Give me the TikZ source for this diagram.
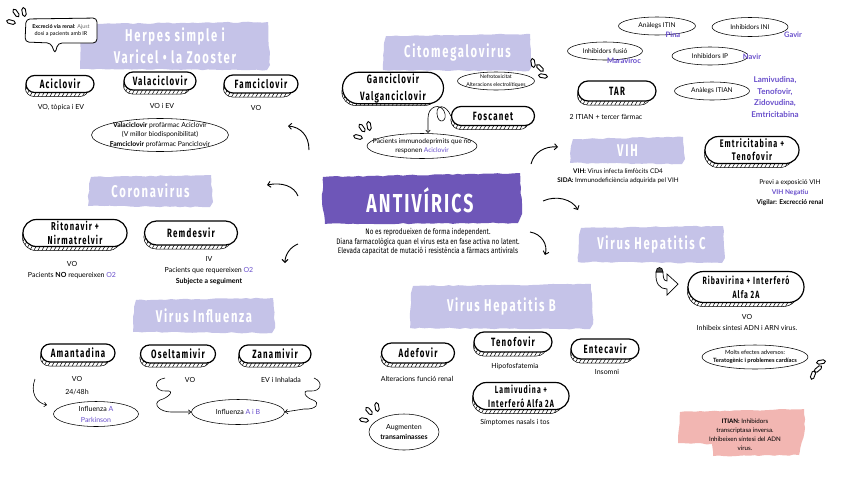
\documentclass[tikz,border=0pt]{standalone}
\usepackage{fontspec}
\setmainfont{Lato}
\newfontfamily\headfont[FakeStretch=0.66,LetterSpace=10]{Fira Sans}
\newfontfamily\condfont[FakeStretch=0.8]{Fira Sans}
\newfontfamily\titlefont[FakeStretch=0.68,LetterSpace=8]{Fira Sans}
\usetikzlibrary{shapes.geometric,shapes.misc,patterns.meta,arrows.meta,decorations.pathmorphing}
\definecolor{lav}{HTML}{C5C3E8}
\definecolor{deep}{HTML}{6E56B8}
\definecolor{vio}{HTML}{6A50CC}
\definecolor{pinkbg}{HTML}{F2B6B2}
\tikzset{
  band/.style={fill=lav, decorate, decoration={random steps, segment length=5pt, amplitude=0.6pt}},
  headtxt/.style={text=white, font=\headfont\bfseries\fontsize{17}{22}\selectfont, align=center, inner sep=0pt},
  coinfront/.style={rounded rectangle, draw, line width=1.2pt, fill=white, inner sep=1pt, align=center, font=\headfont\bfseries\fontsize{12}{14}\selectfont},
  coinback/.style={rounded rectangle, draw, line width=0.5pt, pattern={Lines[angle=60,distance=3.5pt,line width=0.5pt]}},
  ell/.style={ellipse, draw, line width=0.55pt, inner sep=0pt},
  txt/.style={inner sep=0pt, align=center, font=\fontsize{7}{10}\selectfont},
  ltxt/.style={inner sep=0pt, align=center, font=\fontsize{6.6}{9}\selectfont},
  vtxt/.style={inner sep=0pt, align=center, text=vio, font=\bfseries\fontsize{7.5}{9}\selectfont},
  arr/.style={line width=0.9pt, -{Straight Barb[length=3pt,width=6pt]}},
  thinarr/.style={line width=0.6pt, -{Straight Barb[length=2.5pt,width=4.5pt]}},
  spark/.style={rounded rectangle, draw, line width=0.9pt, minimum width=9pt, minimum height=3.6pt, inner sep=0pt},
}
% coin node: [extra] name x y w h text
\newcommand\coin[7][]{%
  \node[coinback, minimum width=#5pt, minimum height=#6pt] (#2b) at (#3-3,#4+4) {};
  \node[coinfront, minimum width=#5pt, minimum height=#6pt, #1] (#2) at (#3,#4) {#7};}
% ellipse with text: [font] name x y w h text
\newcommand\ellnode[7][]{%
  \node[ell, minimum width=#5pt, minimum height=#6pt] (#2) at (#3,#4) {};
  \node[ltxt, #1] (#2t) at (#3,#4) {#7};}
% band: [fill] name x1 y1 x2 y2 text
\newcommand\band[7][lav]{%
  \fill[band, fill=#1] (#3+3,#4+2) -- (#5-2,#4) -- (#5,#6-5) -- (#5-3,#6) -- (#3,#6-1) -- (#3+1,#4+9) -- cycle;
  \node[headtxt] (#2) at ({(#3+#5)/2},{(#4+#6)/2}) {#7};}
\begin{document}
\begin{tikzpicture}[x=1pt,y=-1pt]
\useasboundingbox (0,0) rectangle (848,477);
\fill[white] (0,0) rectangle (848,477);

% ---------------- central title
\fill[deep, decorate, decoration={random steps, segment length=5pt, amplitude=0.6pt}]
  (323,177) -- (520,173) -- (522,214) -- (518,223) -- (325,224) -- (322,200) -- cycle;
\node[inner sep=0pt, text=white, font=\titlefont\bfseries\fontsize{26}{28}\selectfont] (title) at (420,200) {ANTIVÍRICS};
\node[txt, font=\condfont\fontsize{8}{9.3}\selectfont] (sub) at (428,242)
  {No es reprodueixen de forma independent.\\Diana farmacològica quan el virus esta en fase activa no latent.\\Elevada capacitat de mutació i resistència a fàrmacs antivirals};

% ---------------- Herpes
\band{herp}{80}{22}{270}{70}{Herpes simple i\\Varicel • la Zooster}
\draw[line width=0.8pt, rounded corners=4pt, fill=white] (26,19) -- (97,18) -- (97,43) -- (58,43) -- (55,54) -- (51,43) -- (25,42) -- cycle;
\node[inner sep=0pt, align=center, font=\fontsize{5.4}{7}\selectfont] (bubble) at (61,30) {\textbf{Excreció via renal}: \textcolor{black!60}{Ajust}\\dosi a pacients amb IR};
\node[spark, rotate=-15] (sp1a) at (11,22) {};
\node[spark, rotate=-55] (sp1b) at (16,13) {};
\node[spark, rotate=-80] (sp1c) at (24,12) {};
\coin{acic}{60}{84}{70}{17}{Aciclovir}
\coin{vala}{160}{81}{74}{18}{Valaciclovir}
\coin{famc}{261}{84}{76}{18}{Famciclovir}
\node[txt] (acicl) at (61,108) {VO, tòpica i EV};
\node[txt] (valal) at (162,106) {VO i EV};
\node[txt] (famcl) at (256,108) {VO};
\ellnode[font=\fontsize{6.8}{9.5}\selectfont]{prof}{160}{135}{137}{33}{\textbf{Valaciclovir} profàrmac Aciclovir\\(V millor biodisponibilitat)\\\textbf{Famciclovir} profàrmac Panciclovir}

% ---------------- Citomegalovirus
\band{cmv}{383}{34}{532}{71}{Citomegalovirus}
\coin[font=\headfont\bfseries\fontsize{12}{17}\selectfont]{ganc}{393}{88}{103}{27}{Ganciclovir\\Valganciclovir}
\coin{fosc}{493}{116}{85}{19}{Foscanet}
\ellnode[font=\fontsize{5.2}{8}\selectfont]{nefro}{496}{81}{77}{18}{Nefrotoxicitat\\Alteracions electrolítiques}
\ellnode[font=\fontsize{6.6}{9}\selectfont]{pac}{422}{146}{110}{25}{Pacients immunodeprimits que no\\responen \textcolor{vio}{Aciclovir}}
\node[spark, rotate=100] (sp2a) at (533,63) {};
\node[spark, rotate=135] (sp2b) at (540,68) {};
\node[spark, rotate=170] (sp2c) at (543,76) {};
\node[spark, rotate=-15] (sp3a) at (358,137) {};
\node[spark, rotate=-55] (sp3b) at (362,128) {};
\node[spark, rotate=-80] (sp3c) at (369,126) {};
\coordinate (pactop) at (428,133);
\draw[thinarr] (fosc.west) .. controls (446,104) and (436,104) .. (437,114) .. controls (438,126) and (449,121) .. (444,111) .. controls (440,103) and (428,106) .. (428,118) -- (pactop);

% ---------------- VIH / TAR
\band{vih}{570}{137}{685}{164}{VIH}
\node[inner sep=0pt, align=center, font=\fontsize{6.4}{9}\selectfont] (vihl) at (618,176) {\textbf{VIH:} Virus infecta limfòcits CD4\\\textbf{SIDA:} Immunodeficiència adquirida pel VIH};
\coin{tar}{617}{91}{80}{20}{TAR}
\node[txt] (tarl) at (606,117) {2 ITIAN + tercer fàrmac};
\ellnode{itin}{657}{26}{77}{18}{Anàlegs ITIN}
\node[vtxt] (pina) at (673,35) {Pina};
\ellnode{ini}{750}{27}{76}{19}{Inhibidors INI}
\node[vtxt] (gavir) at (793,35) {Gavir};
\ellnode{fus}{605}{51}{75}{18}{Inhibidors fusió}
\node[vtxt] (mara) at (624,61) {Maraviroc};
\ellnode{ip}{710}{56}{76}{18}{Inhibidors IP}
\node[vtxt] (navir) at (752,57) {Navir};
\ellnode{itian}{712}{91}{75}{18}{Anàlegs ITIAN}
\node[vtxt, font=\bfseries\fontsize{8}{11.5}\selectfont] (list) at (775,97) {Lamivudina,\\Tenofovir,\\Zidovudina,\\Emtricitabina};
\coin[font=\headfont\bfseries\fontsize{11}{13}\selectfont]{emtr}{752}{150}{96}{27}{Emtricitabina +\\Tenofovir}
\node[inner sep=0pt, align=center, font=\fontsize{6.6}{10}\selectfont] (emtrl) at (790,193) {Previ a exposició VIH\\\textcolor{vio}{\textbf{VIH Negatiu}}\\\textbf{Vigilar: Excrecció renal}};

% ---------------- Hepatitis C
\band{hepc}{578}{226}{725}{263}{Virus Hepatitis C}
\draw[line width=0.7pt, fill=white] (656,272) .. controls (655,284) and (660,289) .. (667,289) -- (667,295) -- (678,284) -- (667,274) -- (667,281) .. controls (664,281) and (663,278) .. (663,272) -- cycle;
\filldraw[line width=0.6pt, fill=black!70] (656,272) .. controls (656,266) and (663,266) .. (663,272) -- cycle;
\coin[font=\headfont\bfseries\fontsize{10.5}{14}\selectfont]{riba}{746}{287}{118}{31}{Ribavirina + Interferó\\Alfa 2A}
\node[txt, font=\fontsize{7}{11}\selectfont] (ribal) at (747,322) {VO\\Inhibeix síntesi ADN i ARN virus.};
\ellnode[font=\fontsize{5.8}{8.5}\selectfont]{molts}{755}{357}{106}{24}{Molts efectes adversos:\\\textbf{Teratogènic i problemes cardíacs}}
\node[spark, rotate=10] (sp4a) at (821,362) {};
\node[spark, rotate=40] (sp4b) at (818,369) {};
\node[spark, rotate=70] (sp4c) at (813,375) {};

% ---------------- ITIAN note
\fill[pinkbg, decorate, decoration={random steps, segment length=5pt, amplitude=0.6pt}]
  (680,412) -- (804,409) -- (805,428) -- (799,455) -- (713,456) -- (712,444) -- (678,443) -- cycle;
\node[inner sep=0pt, align=center, font=\fontsize{6.2}{9}\selectfont] (itiannote) at (745,435) {\textbf{ITIAN:} Inhibidors\\transcriptasa inversa.\\Inhibeixen síntesi del ADN\\virus.};

% ---------------- Hepatitis B
\band{hepb}{410}{284}{593}{329}{Virus Hepatitis B}
\coin{adef}{418}{353}{75}{20}{Adefovir}
\coin{teno}{513}{342}{80}{20}{Tenofovir}
\coin{ente}{605}{349}{70}{20}{Entecavir}
\coin[font=\headfont\bfseries\fontsize{10.5}{14}\selectfont]{lami}{521}{396}{98}{27}{Lamivudina +\\Interferó Alfa 2A}
\node[txt] (adefl) at (417,379) {Alteracions funció renal};
\node[txt] (tenol) at (515,367) {Hipofosfatemia};
\node[txt] (entel) at (607,372) {Insomni};
\node[txt] (lamil) at (515,423) {Símptomes nasals i tos};
\ellnode[font=\fontsize{7}{9.5}\selectfont]{aug}{404}{432}{70}{36}{Augmenten\\\textbf{transaminasses}}
\node[spark, rotate=-10] (sp5a) at (364,420) {};
\node[spark, rotate=-50] (sp5b) at (369,411) {};
\node[spark, rotate=-80] (sp5c) at (377,407) {};

% ---------------- Coronavirus
\band{cov}{88}{175}{213}{207}{Coronavirus}
\coin[font=\headfont\bfseries\fontsize{11.5}{14}\selectfont]{rito}{75}{233}{106}{27}{Ritonavir +\\Nirmatrelvir}
\coin{remd}{191}{233}{95}{24}{Remdesvir}
\node[txt, font=\fontsize{7}{11}\selectfont] (ritol) at (72,270) {VO\\Pacients \textbf{NO} requereixen \textcolor{vio}{O2}};
\node[txt, font=\fontsize{7}{11}\selectfont] (remdl) at (209,271) {IV\\Pacients que requereixen \textcolor{vio}{O2}\\\textbf{Subjecte a seguiment}};

% ---------------- Influenza
\band{infl}{133}{298}{275}{333}{Virus Influenza}
\coin{aman}{78}{353}{76}{18}{Amantadina}
\coin{osel}{178}{354}{77}{18}{Oseltamivir}
\coin{zana}{275}{354}{74}{18}{Zanamivir}
\node[txt, font=\fontsize{7}{13}\selectfont] (amanl) at (77,386) {VO\\24/48h};
\node[txt] (osell) at (190,380) {VO};
\node[txt] (zanal) at (281,380) {EV i Inhalada};
\ellnode[font=\fontsize{7}{11}\selectfont]{infa}{96}{414}{85}{25}{Influenza \textcolor{vio}{A}\\\textcolor{vio}{Parkinson}}
\ellnode[font=\fontsize{7}{11}\selectfont]{infab}{238}{412}{93}{25}{Influenza \textcolor{vio}{A i B}}
\coordinate (am1) at (35,379);
\coordinate (am2) at (47,405);
\draw[thinarr] (am1) .. controls (30,392) and (36,403) .. (am2);
\coordinate (os1) at (165,378);
\draw[thinarr] (os1) .. controls (152,380) and (155,392) .. (166,391) .. controls (176,390) and (168,398) .. (160,400) .. controls (152,404) and (160,412) .. (171,412) -- (infab.west);
\coordinate (za1) at (314,378);
\draw[thinarr] (za1) .. controls (324,382) and (321,392) .. (310,391) .. controls (300,390) and (306,398) .. (313,400) .. controls (321,403) and (316,410) .. (304,409) -- (infab.east);

% ---------------- main arrows
\coordinate (h1) at (309,150); \coordinate (h2) at (288,126);
\draw[arr] (h1) .. controls (309,135) and (300,127) .. (h2);
\coordinate (c1) at (298,196); \coordinate (c2) at (267,185);
\draw[arr] (c1) .. controls (294,186) and (282,182) .. (c2);
\coordinate (i1) at (298,244); \coordinate (i2) at (285,263);
\draw[arr] (i1) .. controls (290,247) and (285,255) .. (i2);
\coordinate (v1) at (531,164); \coordinate (v2) at (558,147);
\draw[arr] (v1) .. controls (534,152) and (545,146) .. (v2);
\coordinate (hc1) at (543,201); \coordinate (hc2) at (578,210);
\draw[arr] (hc1) .. controls (556,195) and (572,199) .. (hc2);
\coordinate (hb1) at (530,232); \coordinate (hb2) at (545,255);
\draw[arr] (hb1) .. controls (542,234) and (548,245) .. (hb2);
\end{tikzpicture}
\end{document}
